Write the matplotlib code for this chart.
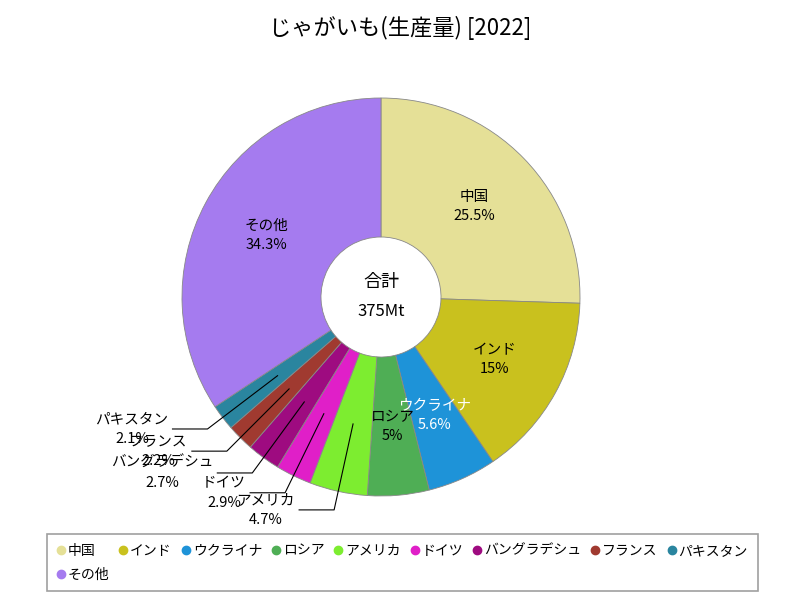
import numpy as np
import matplotlib.pyplot as plt
from matplotlib.lines import Line2D

plt.rcParams['font.family'] = ['Noto Sans CJK JP', 'DejaVu Sans']

# データ (じゃがいも 生産量 2022, %)
names = ['中国', 'インド', 'ウクライナ', 'ロシア', 'アメリカ', 'ドイツ',
         'バングラデシュ', 'フランス', 'パキスタン', 'その他']
shares = [25.5, 15, 5.6, 5, 4.7, 2.9, 2.7, 2.2, 2.1, 34.3]
colors = ['#e5e097', '#c9c11e', '#1e93d8', '#4fae55', '#7ded30', '#e01fc8',
          '#9e0b80', '#a03a30', '#2a859f', '#a57bef']
outside = ['アメリカ', 'ドイツ', 'バングラデシュ', 'フランス', 'パキスタン']
total_label = '375Mt'
title = 'じゃがいも(生産量) [2022]'

fig = plt.figure(figsize=(8, 6), dpi=100)
ax = fig.add_axes([0, 0, 1, 1])
ax.set_aspect('equal')
ax.axis('off')

cx, cy, R, r_in = 381, 303, 199, 60

wedges, _ = ax.pie(shares, colors=colors, startangle=90, counterclock=False,
                   center=(cx, cy), radius=R,
                   wedgeprops=dict(width=R - r_in, edgecolor='#888888', linewidth=0.6))
ax.set_xlim(0, 800)
ax.set_ylim(0, 600)

def fmt(v):
    return ('%g' % v) + '%'

cum = 0
for name, v in zip(names, shares):
    mid = (cum + v / 2) / 100 * 2 * np.pi
    cum += v
    dx, dy = np.sin(mid), np.cos(mid)
    x0, y0 = cx + 130 * dx, cy + 130 * dy
    txt = name + '\n' + fmt(v)
    if name in outside:
        x1, y1 = cx + 218 * dx, cy + 218 * dy
        x2 = x1 - 35
        ax.plot([x0, x1, x2], [y0, y1, y1], color='black', lw=0.8)
        ax.text(x2 - 4, y1, txt, ha='right', va='center', multialignment='center',
                fontsize=10.5, linespacing=1.5)
    else:
        col = 'white' if name == 'ウクライナ' else 'black'
        ax.text(x0, y0, txt, ha='center', va='center', multialignment='center',
                fontsize=10.5, linespacing=1.5, color=col)

ax.text(cx, cy + 15, '合計', ha='center', va='center', fontsize=13)
ax.text(cx, cy - 15, total_label, ha='center', va='center', fontsize=12)

fig.text(0.5, 1 - 28 / 600, title, ha='center', va='center', fontsize=16)

# 凡例: 1列目に 中国 と その他 が縦に並ぶ
order = [0, 9] + list(range(1, 9))
handles = [Line2D([], [], marker='o', ls='', color=colors[i], markersize=6) for i in order]
labels = [names[i] for i in order]
leg = fig.legend(handles, labels, ncol=9, loc='upper left',
                 bbox_to_anchor=(47 / 800, 1 - 534 / 600), fontsize=10,
                 frameon=True, fancybox=False, edgecolor='#888888',
                 handlelength=0.6, handletextpad=0.2, columnspacing=0.7,
                 borderpad=0.7, labelspacing=0.7, borderaxespad=0)
leg.get_frame().set_linewidth(1.2)

fig.savefig('out.png', dpi=100)
